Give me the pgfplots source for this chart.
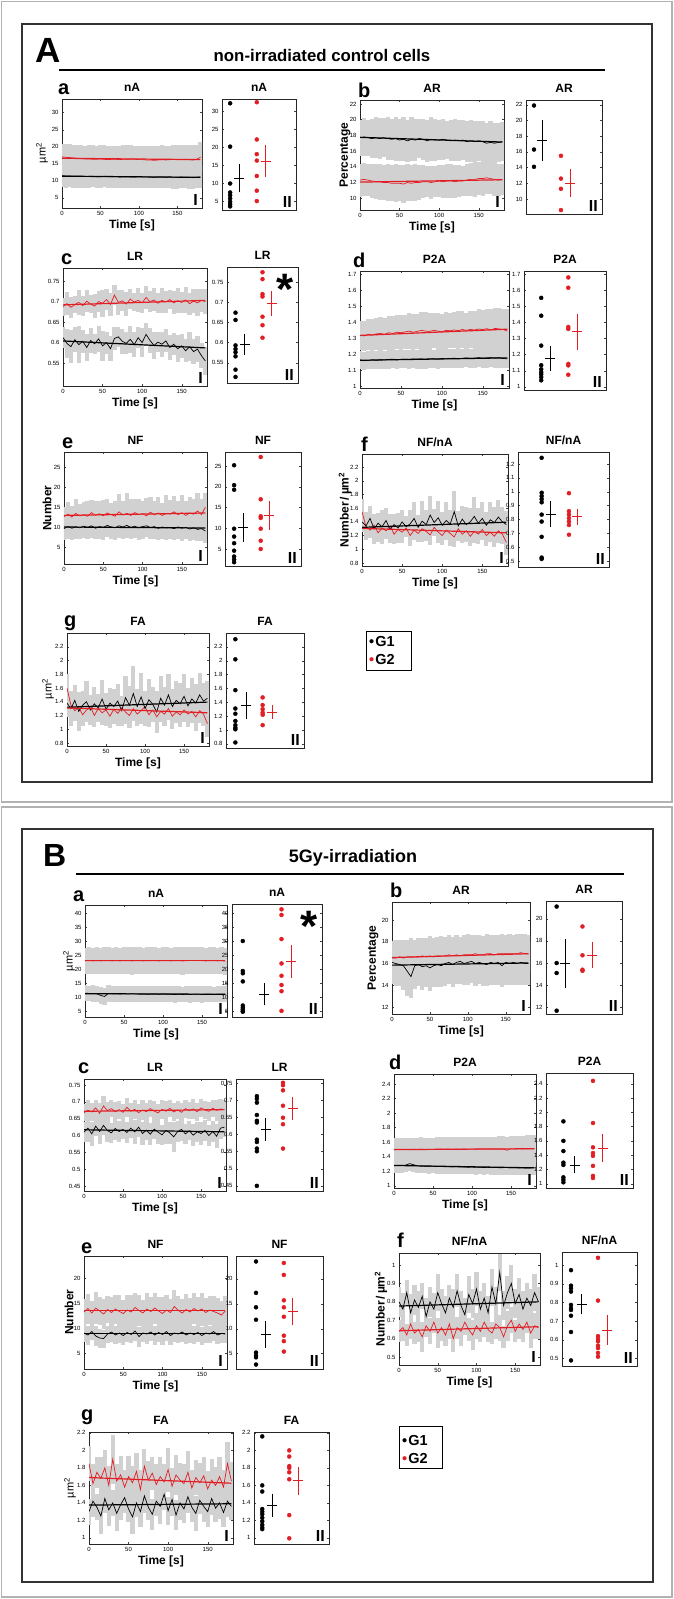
\documentclass[border=0pt]{standalone}
\usepackage{fontspec}
\setmainfont{Liberation Sans}
\usepackage{pgfplots}
\pgfplotsset{compat=1.18}
\usepackage{pgfplotstable}
\definecolor{ptred}{RGB}{226,30,36}

\pgfplotstableread{
t a ea b eb
0 11.5 3.4 17.0 3.8
5 11.4 3.4 16.9 3.9
10 11.4 3.3 16.8 3.9
15 11.3 3.3 16.7 3.8
20 11.3 3.4 16.6 3.9
25 11.3 3.4 16.5 4.0
30 11.2 3.3 16.4 3.9
35 11.3 3.3 16.4 4.0
40 11.3 3.2 16.3 4.1
45 11.2 3.3 16.3 4.0
50 11.2 3.3 16.4 4.0
55 11.3 3.2 16.3 4.1
60 11.2 3.2 16.2 4.1
65 11.2 3.3 16.3 4.0
70 11.2 3.3 16.3 4.0
75 11.1 3.2 16.2 4.1
80 11.2 3.2 16.3 4.2
85 11.2 3.3 16.3 4.1
90 11.1 3.3 16.4 4.1
95 11.1 3.2 16.3 4.0
100 11.2 3.2 16.2 4.0
105 11.1 3.3 16.2 4.1
110 11.1 3.3 16.1 4.2
115 11.1 3.2 16.1 4.2
120 11.0 3.2 16.0 4.1
125 11.1 3.3 16.1 4.1
130 11.1 3.3 16.2 4.2
135 11.0 3.2 16.1 4.2
140 11.1 3.2 16.2 4.1
145 11.0 3.3 16.3 4.2
150 11.0 3.3 16.2 4.3
155 11.1 3.2 16.2 4.2
160 11.0 3.2 16.3 4.2
165 11.0 3.3 16.2 4.3
170 10.9 3.3 16.1 4.3
175 11.0 3.2 16.3 4.3
180 11.1 3.3 16.9 4.4
}\tAa

\pgfplotstableread{
t a ea b eb
0 17.7 2.3 12.3 2.1
5 17.8 2.4 12.4 2.1
10 17.7 2.3 12.3 2.0
15 17.6 2.5 12.2 2.2
20 17.7 2.6 12.1 2.2
25 17.6 2.6 12.1 2.3
30 17.7 2.5 12.0 2.2
35 17.6 2.7 12.0 2.3
40 17.5 2.6 11.9 2.3
45 17.6 2.8 11.9 2.4
50 17.4 2.7 11.9 2.3
55 17.5 2.8 11.8 2.4
60 17.3 2.7 12.0 2.4
65 17.5 2.8 11.9 2.3
70 17.4 2.7 12.0 2.4
75 17.6 2.5 12.0 2.2
80 17.5 2.6 12.1 2.1
85 17.3 2.7 12.1 2.0
90 17.5 2.8 12.0 2.1
95 17.4 2.7 12.1 2.0
100 17.4 2.5 12.2 2.0
105 17.5 2.6 12.1 2.1
110 17.4 2.4 12.2 2.2
115 17.3 2.6 12.2 2.2
120 17.4 2.7 12.1 2.1
125 17.3 2.6 12.2 2.0
130 17.4 2.5 12.2 1.9
135 17.2 2.6 12.3 2.0
140 17.3 2.7 12.4 2.1
145 17.2 2.6 12.4 2.2
150 17.3 2.5 12.5 2.1
155 17.2 2.6 12.5 2.2
160 17.0 2.6 12.6 2.1
165 17.1 2.7 12.5 2.0
170 17.0 2.6 12.4 2.1
175 17.1 2.5 12.3 2.0
180 17.2 2.5 12.4 2.0
}\tAb

\pgfplotstableread{
t a ea b eb
0 0.612 0.025 0.688 0.022
5 0.598 0.035 0.695 0.028
10 0.590 0.040 0.686 0.025
15 0.607 0.030 0.693 0.020
20 0.595 0.045 0.698 0.030
25 0.603 0.028 0.690 0.024
30 0.588 0.033 0.701 0.027
35 0.605 0.030 0.694 0.022
40 0.597 0.025 0.689 0.030
45 0.609 0.032 0.700 0.025
50 0.592 0.036 0.696 0.033
55 0.600 0.027 0.705 0.026
60 0.585 0.030 0.693 0.028
65 0.610 0.028 0.716 0.024
70 0.614 0.025 0.698 0.030
75 0.603 0.030 0.702 0.026
80 0.598 0.027 0.694 0.030
85 0.608 0.033 0.706 0.025
90 0.595 0.030 0.699 0.022
95 0.612 0.026 0.703 0.029
100 0.600 0.035 0.697 0.024
105 0.620 0.028 0.710 0.027
110 0.605 0.030 0.700 0.025
115 0.593 0.032 0.704 0.028
120 0.601 0.025 0.696 0.024
125 0.596 0.030 0.703 0.030
130 0.604 0.028 0.699 0.026
135 0.588 0.031 0.705 0.024
140 0.596 0.027 0.697 0.028
145 0.585 0.033 0.702 0.030
150 0.592 0.030 0.698 0.026
155 0.580 0.028 0.704 0.031
160 0.590 0.035 0.695 0.027
165 0.578 0.030 0.701 0.029
170 0.584 0.032 0.697 0.033
175 0.568 0.030 0.703 0.028
180 0.555 0.035 0.700 0.030
}\tAc

\pgfplotstableread{
t a ea b eb
0 1.165 0.055 1.320 0.090
5 1.160 0.055 1.315 0.095
10 1.162 0.056 1.325 0.095
15 1.165 0.057 1.320 0.100
20 1.163 0.056 1.328 0.100
25 1.167 0.058 1.330 0.105
30 1.165 0.057 1.325 0.100
35 1.168 0.058 1.335 0.105
40 1.170 0.057 1.330 0.110
45 1.166 0.058 1.338 0.105
50 1.169 0.057 1.335 0.110
55 1.170 0.058 1.340 0.105
60 1.168 0.059 1.345 0.110
65 1.172 0.058 1.338 0.115
70 1.170 0.059 1.343 0.110
75 1.171 0.060 1.350 0.115
80 1.169 0.058 1.345 0.120
85 1.173 0.059 1.343 0.115
90 1.172 0.058 1.350 0.110
95 1.170 0.059 1.345 0.115
100 1.175 0.060 1.340 0.110
105 1.172 0.059 1.350 0.115
110 1.174 0.060 1.347 0.110
115 1.176 0.059 1.352 0.115
120 1.173 0.060 1.348 0.120
125 1.175 0.059 1.355 0.115
130 1.178 0.060 1.350 0.110
135 1.175 0.061 1.355 0.115
140 1.177 0.060 1.352 0.120
145 1.179 0.061 1.358 0.125
150 1.176 0.060 1.355 0.120
155 1.178 0.061 1.360 0.125
160 1.180 0.062 1.352 0.130
165 1.177 0.061 1.362 0.125
170 1.179 0.062 1.358 0.130
175 1.174 0.061 1.355 0.130
180 1.172 0.060 1.345 0.135
}\tAd

\pgfplotstableread{
t a ea b eb
0 9.6 2.8 12.6 2.3
5 10.1 3.0 13.2 3.0
10 9.7 2.9 12.5 2.7
15 10.0 3.1 13.4 3.5
20 9.8 2.8 12.8 2.9
25 10.2 3.0 13.0 3.3
30 9.9 2.9 12.7 3.8
35 10.3 3.1 13.6 3.1
40 9.7 2.8 12.9 3.6
45 10.1 3.0 13.3 3.2
50 9.9 3.2 12.8 4.0
55 10.4 2.9 13.5 3.4
60 10.0 3.0 13.1 3.0
65 9.8 3.1 12.7 3.9
70 10.3 3.0 13.8 4.5
75 10.0 2.9 13.0 3.6
80 10.4 3.1 13.4 5.0
85 9.9 3.0 12.9 4.2
90 10.2 2.9 13.6 3.5
95 9.8 3.0 13.1 4.0
100 10.1 3.1 13.3 3.3
105 10.3 2.9 12.8 4.4
110 9.9 3.0 13.7 3.8
115 10.1 3.1 13.0 3.4
120 9.7 3.0 13.5 4.1
125 10.0 2.9 12.9 3.2
130 9.8 3.1 13.4 4.6
135 9.9 3.0 13.2 3.5
140 9.6 2.9 13.8 3.9
145 10.0 3.0 13.1 3.3
150 9.7 3.1 13.6 4.3
155 9.9 3.0 12.9 3.6
160 9.5 2.9 13.5 4.0
165 9.8 3.0 13.2 3.7
170 9.4 2.9 14.0 4.5
175 9.6 3.0 13.1 3.8
180 9.0 3.1 15.0 3.5
}\tAe

\pgfplotstableread{
t a ea b eb
0 1.40 0.15 1.55 0.18
5 1.34 0.20 1.33 0.14
10 1.45 0.18 1.28 0.12
15 1.30 0.22 1.35 0.16
20 1.38 0.15 1.24 0.13
25 1.33 0.25 1.31 0.15
30 1.42 0.18 1.27 0.12
35 1.29 0.20 1.34 0.17
40 1.36 0.16 1.22 0.14
45 1.31 0.22 1.29 0.13
50 1.40 0.18 1.25 0.16
55 1.33 0.15 1.31 0.12
60 1.37 0.20 1.20 0.15
65 1.45 0.24 1.28 0.14
70 1.32 0.18 1.23 0.13
75 1.41 0.30 1.30 0.16
80 1.36 0.22 1.26 0.14
85 1.50 0.28 1.21 0.15
90 1.39 0.20 1.32 0.13
95 1.46 0.24 1.25 0.16
100 1.35 0.19 1.20 0.14
105 1.42 0.27 1.28 0.15
110 1.37 0.20 1.23 0.18
115 1.55 0.30 1.18 0.14
120 1.34 0.22 1.30 0.16
125 1.44 0.19 1.22 0.13
130 1.36 0.25 1.27 0.15
135 1.40 0.20 1.19 0.14
140 1.48 0.28 1.26 0.17
145 1.38 0.22 1.22 0.14
150 1.45 0.24 1.29 0.16
155 1.35 0.20 1.20 0.15
160 1.43 0.26 1.25 0.14
165 1.39 0.22 1.19 0.16
170 1.47 0.25 1.27 0.18
175 1.40 0.22 1.22 0.15
180 1.36 0.20 1.10 0.18
}\tAf

\pgfplotstableread{
t a ea b eb
0 1.38 0.20 1.60 0.20
5 1.30 0.25 1.35 0.18
10 1.42 0.22 1.27 0.15
15 1.26 0.28 1.32 0.20
20 1.35 0.20 1.21 0.16
25 1.40 0.30 1.28 0.18
30 1.28 0.22 1.33 0.15
35 1.37 0.25 1.20 0.17
40 1.31 0.20 1.30 0.16
45 1.44 0.28 1.24 0.18
50 1.29 0.24 1.28 0.15
55 1.38 0.22 1.19 0.17
60 1.33 0.26 1.29 0.16
65 1.41 0.25 1.23 0.18
70 1.27 0.22 1.31 0.15
75 1.46 0.32 1.25 0.17
80 1.35 0.28 1.20 0.18
85 1.52 0.40 1.30 0.16
90 1.33 0.25 1.22 0.17
95 1.47 0.35 1.27 0.19
100 1.30 0.26 1.33 0.16
105 1.43 0.30 1.21 0.18
110 1.36 0.25 1.28 0.17
115 1.25 0.30 1.18 0.20
120 1.45 0.33 1.26 0.16
125 1.35 0.26 1.22 0.18
130 1.50 0.30 1.30 0.17
135 1.33 0.25 1.19 0.19
140 1.42 0.28 1.25 0.16
145 1.37 0.30 1.21 0.18
150 1.48 0.33 1.28 0.17
155 1.34 0.26 1.22 0.19
160 1.44 0.30 1.26 0.17
165 1.38 0.28 1.18 0.20
170 1.50 0.32 1.27 0.18
175 1.41 0.26 1.22 0.17
180 1.45 0.25 1.08 0.20
}\tAg

\pgfplotstableread{
t a ea b eb
0 11.4 2.8 22.9 4.8
5 11.3 2.8 23.0 4.8
10 11.3 2.9 22.9 4.7
15 11.2 2.9 23.0 4.8
20 10.6 3.0 22.9 4.8
25 10.2 3.0 23.0 4.9
30 11.3 2.9 23.0 4.8
35 11.2 2.9 22.9 4.8
40 11.2 2.8 23.0 4.9
45 11.1 2.8 22.9 4.8
50 11.2 2.9 23.0 4.8
55 11.1 2.9 23.0 4.8
60 11.2 2.8 22.9 4.9
65 11.1 2.8 23.0 4.8
70 11.1 2.9 23.0 4.8
75 11.1 2.9 22.9 4.8
80 11.0 2.8 23.0 4.9
85 11.1 2.8 23.0 4.8
90 11.1 2.9 23.0 4.8
95 11.0 2.9 22.9 4.8
100 11.1 2.8 23.0 4.8
105 11.0 2.8 23.0 4.9
110 11.0 2.9 22.9 4.8
115 10.9 2.9 23.0 4.8
120 11.0 2.8 23.0 4.8
125 10.9 2.8 22.9 4.9
130 11.0 2.9 23.0 4.8
135 10.9 2.9 23.1 4.8
140 11.0 2.8 23.0 4.8
145 11.0 2.8 23.1 4.9
150 10.9 2.9 23.0 4.8
155 11.0 2.9 22.9 4.8
160 11.0 2.8 23.0 4.8
165 10.9 2.8 23.0 4.9
170 11.0 2.9 22.9 4.8
175 11.0 2.9 23.0 4.8
180 11.0 2.8 22.8 4.8
}\tBa

\pgfplotstableread{
t a ea b eb
0 16.1 2.0 16.5 1.6
5 16.0 2.1 16.5 1.7
10 15.9 2.0 16.6 1.6
15 15.8 2.2 16.5 1.7
20 15.3 2.3 16.6 1.6
25 14.8 2.0 16.6 1.7
30 15.8 2.1 16.6 1.6
35 15.9 2.0 16.6 1.7
40 15.7 2.1 16.7 1.6
45 15.8 2.0 16.6 1.7
50 15.6 2.1 16.7 1.8
55 15.8 2.0 16.6 1.7
60 15.9 2.1 16.7 1.7
65 15.8 2.0 16.7 1.8
70 16.0 2.1 16.7 1.7
75 16.1 2.0 16.8 1.8
80 15.9 2.1 16.7 1.7
85 16.1 2.0 16.8 1.8
90 16.2 2.1 16.7 1.7
95 16.0 2.0 16.8 1.8
100 16.1 2.1 16.8 1.9
105 16.2 2.0 16.8 1.8
110 16.0 2.1 16.9 1.7
115 16.1 2.0 16.8 1.8
120 16.0 2.1 16.8 1.7
125 15.9 2.0 16.9 1.8
130 16.1 2.1 16.9 1.7
135 16.0 2.0 16.8 1.8
140 16.1 2.1 16.9 1.7
145 15.8 2.0 16.9 1.8
150 16.1 2.1 16.9 1.7
155 16.0 2.0 16.9 1.8
160 16.1 2.1 16.9 1.7
165 16.0 2.0 16.9 1.8
170 16.1 2.1 17.0 1.7
175 16.0 2.0 16.9 1.8
180 16.0 2.0 16.9 1.7
}\tBb

\pgfplotstableread{
t a ea b eb
0 0.610 0.030 0.668 0.025
5 0.622 0.040 0.675 0.030
10 0.605 0.035 0.670 0.028
15 0.628 0.030 0.682 0.025
20 0.612 0.038 0.666 0.032
25 0.630 0.028 0.688 0.030
30 0.615 0.035 0.674 0.027
35 0.608 0.030 0.680 0.025
40 0.621 0.033 0.671 0.030
45 0.612 0.030 0.677 0.027
50 0.618 0.028 0.669 0.025
55 0.609 0.032 0.684 0.029
60 0.622 0.030 0.672 0.026
65 0.611 0.035 0.678 0.028
70 0.625 0.030 0.668 0.025
75 0.606 0.033 0.676 0.030
80 0.616 0.028 0.671 0.027
85 0.604 0.032 0.680 0.025
90 0.619 0.030 0.673 0.029
95 0.610 0.036 0.667 0.026
100 0.602 0.030 0.678 0.028
105 0.615 0.040 0.672 0.030
110 0.608 0.032 0.681 0.025
115 0.596 0.045 0.670 0.028
120 0.612 0.030 0.676 0.026
125 0.618 0.033 0.669 0.029
130 0.605 0.030 0.680 0.027
135 0.614 0.028 0.674 0.025
140 0.601 0.032 0.679 0.030
145 0.611 0.030 0.671 0.027
150 0.606 0.034 0.682 0.028
155 0.615 0.030 0.676 0.026
160 0.600 0.032 0.672 0.029
165 0.612 0.030 0.681 0.025
170 0.598 0.035 0.675 0.032
175 0.622 0.033 0.679 0.030
180 0.625 0.030 0.677 0.028
}\tBc

\pgfplotstableread{
t a ea b eb
0 1.280 0.100 1.495 0.160
5 1.278 0.100 1.500 0.160
10 1.282 0.102 1.498 0.162
15 1.285 0.100 1.500 0.160
20 1.305 0.100 1.497 0.165
25 1.290 0.100 1.502 0.162
30 1.275 0.098 1.500 0.160
35 1.272 0.100 1.503 0.163
40 1.270 0.098 1.498 0.165
45 1.268 0.100 1.502 0.160
50 1.270 0.099 1.500 0.162
55 1.265 0.100 1.503 0.165
60 1.266 0.098 1.505 0.160
65 1.262 0.100 1.501 0.165
70 1.263 0.099 1.504 0.163
75 1.260 0.100 1.500 0.167
80 1.262 0.098 1.505 0.165
85 1.258 0.100 1.503 0.168
90 1.259 0.099 1.506 0.165
95 1.256 0.100 1.502 0.170
100 1.258 0.098 1.507 0.168
105 1.254 0.100 1.503 0.170
110 1.256 0.099 1.506 0.168
115 1.252 0.100 1.504 0.172
120 1.254 0.098 1.508 0.170
125 1.250 0.100 1.505 0.172
130 1.252 0.099 1.507 0.170
135 1.249 0.100 1.504 0.175
140 1.250 0.098 1.508 0.172
145 1.252 0.100 1.490 0.178
150 1.247 0.099 1.509 0.175
155 1.249 0.100 1.506 0.178
160 1.245 0.098 1.510 0.180
165 1.248 0.100 1.507 0.178
170 1.244 0.099 1.511 0.182
175 1.246 0.100 1.508 0.185
180 1.250 0.100 1.512 0.185
}\tBd

\pgfplotstableread{
t a ea b eb
0 9.0 1.8 13.2 2.6
5 8.6 1.9 13.9 3.0
10 9.3 1.7 13.0 2.5
15 8.4 2.0 14.0 3.2
20 8.0 1.9 13.4 2.8
25 7.9 1.8 12.8 3.0
30 8.8 1.7 13.7 2.7
35 9.2 1.9 13.1 3.1
40 8.6 1.8 13.8 2.9
45 9.0 2.0 13.3 3.3
50 8.5 1.8 12.9 2.8
55 9.1 1.9 13.6 3.0
60 8.7 1.7 13.2 3.4
65 9.4 1.9 14.1 2.9
70 8.3 2.0 13.5 3.1
75 9.0 1.8 13.0 2.7
80 8.8 1.9 13.8 3.2
85 9.2 1.7 13.3 2.9
90 8.6 1.9 14.0 3.1
95 9.1 1.8 13.4 2.8
100 8.7 2.0 12.9 3.3
105 9.3 1.8 13.6 3.0
110 8.5 1.9 13.1 2.7
115 9.0 1.8 14.3 3.4
120 8.8 1.7 13.5 3.0
125 9.2 1.9 13.0 2.8
130 8.6 1.8 13.7 3.2
135 9.0 2.0 13.2 2.9
140 8.7 1.8 13.9 3.1
145 9.1 1.9 13.4 2.8
150 8.5 1.8 13.8 3.3
155 9.0 1.9 13.1 3.0
160 8.8 1.7 13.6 2.9
165 9.3 1.9 13.3 3.2
170 8.6 1.8 13.0 3.0
175 8.9 1.9 12.6 2.8
180 8.8 1.8 13.4 3.0
}\tBe

\pgfplotstableread{
t a ea b eb
0 0.800 0.08 0.640 0.06
5 0.760 0.09 0.660 0.07
10 0.850 0.07 0.620 0.06
15 0.740 0.10 0.680 0.08
20 0.810 0.08 0.630 0.06
25 0.770 0.09 0.650 0.07
30 0.830 0.07 0.610 0.08
35 0.720 0.10 0.670 0.06
40 0.800 0.08 0.640 0.07
45 0.760 0.09 0.690 0.06
50 0.850 0.10 0.630 0.08
55 0.790 0.08 0.660 0.07
60 0.740 0.09 0.620 0.06
65 0.820 0.07 0.680 0.08
70 0.770 0.10 0.600 0.07
75 0.860 0.09 0.660 0.06
80 0.780 0.08 0.640 0.08
85 0.730 0.09 0.690 0.07
90 0.840 0.10 0.650 0.06
95 0.790 0.08 0.620 0.08
100 0.870 0.09 0.670 0.07
105 0.760 0.10 0.640 0.06
110 0.820 0.08 0.690 0.08
115 0.740 0.09 0.650 0.07
120 0.880 0.10 0.630 0.06
125 0.790 0.09 0.680 0.08
130 0.960 0.10 0.660 0.07
135 0.780 0.08 0.610 0.06
140 0.850 0.09 0.670 0.08
145 0.900 0.10 0.700 0.07
150 0.790 0.08 0.640 0.06
155 0.840 0.09 0.680 0.08
160 0.760 0.10 0.650 0.07
165 0.820 0.08 0.690 0.06
170 0.780 0.09 0.630 0.08
175 0.850 0.10 0.670 0.07
180 0.800 0.08 0.660 0.06
}\tBf

\pgfplotstableread{
t a ea b eb
0 1.30 0.15 1.85 0.20
5 1.42 0.18 1.62 0.22
10 1.35 0.15 1.75 0.18
15 1.25 0.20 1.68 0.25
20 1.45 0.16 1.80 0.20
25 1.32 0.18 1.60 0.22
30 1.40 0.15 1.90 0.28
35 1.28 0.20 1.65 0.20
40 1.38 0.17 1.72 0.22
45 1.46 0.18 1.58 0.20
50 1.33 0.15 1.70 0.24
55 1.24 0.20 1.63 0.19
60 1.40 0.16 1.76 0.21
65 1.30 0.18 1.55 0.23
70 1.48 0.20 1.82 0.20
75 1.35 0.15 1.66 0.22
80 1.27 0.18 1.74 0.19
85 1.42 0.17 1.61 0.24
90 1.36 0.20 1.70 0.22
95 1.50 0.18 1.64 0.20
100 1.31 0.16 1.78 0.25
105 1.44 0.19 1.59 0.21
110 1.26 0.17 1.72 0.23
115 1.40 0.20 1.66 0.20
120 1.33 0.16 1.62 0.22
125 1.47 0.18 1.75 0.24
130 1.35 0.17 1.57 0.21
135 1.28 0.20 1.69 0.20
140 1.43 0.16 1.63 0.23
145 1.36 0.18 1.71 0.22
150 1.30 0.17 1.56 0.20
155 1.45 0.19 1.66 0.24
160 1.34 0.16 1.60 0.21
165 1.40 0.18 1.70 0.22
170 1.29 0.17 1.58 0.20
175 1.42 0.18 1.85 0.25
180 1.36 0.16 1.65 0.22
}\tBg

\pgfplotsset{
  myax/.style={scale only axis, anchor=north west,
    axis line style={black!85, line width=0.6pt},
    every tick/.style={black!75, line width=0.3pt},
    major tick length=1.6pt, tick align=inside,
    tick label style={font=\fontsize{6}{7}\selectfont},
    /pgf/number format/assume math mode=true,
    title style={font=\fontsize{12}{13}\bfseries\selectfont, yshift=-2.5pt}},
  tsI/.style={myax, xmin=0, xmax=182, xtick={0,50,100,150},
    xlabel={Time [s]}, xlabel style={font=\fontsize{12}{13}\bfseries\selectfont, yshift=3pt}},
  dII/.style={myax, xmin=0, xmax=1, xtick=\empty},
  bandb/.style={draw=none, mark=none, forget plot,
    error bars/y dir=both, error bars/y explicit, error bars/error mark=none,
    error bars/error bar style={draw=black!18, line width=4.2pt}},
  meanl/.style={line width=0.7pt, mark=none},
  fitl/.style={line width=1.2pt, mark=none},
  mbar/.style={only marks, mark=-, mark size=5pt, mark options={line width=0.8pt},
    error bars/y dir=both, error bars/y explicit,
    error bars/error bar style={line width=0.8pt},
    error bars/error mark options={line width=0.8pt, mark size=3.2pt}},
  dotm/.style={only marks, mark=*, mark size=2pt},
}
\tikzset{rn/.style={anchor=south east, font=\fontsize{16}{16}\bfseries\selectfont, inner sep=1pt, xshift=-3pt, yshift=1.5pt},
  yl/.style={rotate=90, font=\fontsize{12}{13}\bfseries\selectfont, anchor=center},
  plet/.style={anchor=base west, font=\fontsize{20}{20}\bfseries\selectfont, inner sep=0pt}}

\newcommand{\tsplots}[5]{%
\addplot[bandb] table[x=t,y=a,y error=ea]{#1};
\addplot[bandb] table[x=t,y=b,y error=eb]{#1};
\addplot[meanl,ptred] table[x=t,y=b]{#1};
\addplot[meanl,black] table[x=t,y=a]{#1};
\addplot[fitl,black] coordinates {(0,#2)(180,#3)};
\addplot[fitl,ptred] coordinates {(0,#4)(180,#5)};
}
\newcommand{\dotII}[8]{%
\addplot[dotm,black] table[header=false,x expr=\xa,y index=0,row sep=\\]{#1};
\addplot[mbar,black] coordinates {(\xb,#2) += (0,#4) -= (0,#3)};
\addplot[dotm,ptred] table[header=false,x expr=\xc,y index=0,row sep=\\]{#5};
\addplot[mbar,ptred] coordinates {(\xd,#6) += (0,#8) -= (0,#7)};
}
\newcommand{\xs}[4]{\def\xa{#1}\def\xb{#2}\def\xc{#3}\def\xd{#4}}

\begin{document}
\begin{tikzpicture}
\path[use as bounding box] (0,0) rectangle (674pt,-1599pt);
\fill[white] (0,0) rectangle (674pt,-1599pt);
\draw[black!30, line width=1.6pt] (1.5pt,-1.5pt) rectangle (672pt,-802pt);
\draw[black!30, line width=1.6pt] (1.5pt,-807pt) rectangle (672pt,-1597pt);
\draw[black!80, line width=2.2pt] (22pt,-24pt) rectangle (652pt,-782pt);
\draw[black!80, line width=2.2pt] (22pt,-829pt) rectangle (653pt,-1582pt);
\node[anchor=base west, font=\fontsize{35}{35}\bfseries\selectfont, inner sep=0pt] at (35pt,-62pt) {A};
\node[font=\fontsize{16.8}{17}\bfseries\selectfont] at (322pt,-55pt) {non-irradiated control cells};
\draw[black, line width=2pt] (59pt,-70pt) -- (605pt,-70pt);
\node[anchor=base west, font=\fontsize{32}{32}\bfseries\selectfont, inner sep=0pt] at (43pt,-866pt) {B};
\node[font=\fontsize{18}{18}\bfseries\selectfont] at (353pt,-858pt) {5Gy-irradiation};
\draw[black, line width=2pt] (76pt,-874pt) -- (624pt,-874pt);
\node[plet] at (58pt,-94pt) {a};
\node[plet] at (358pt,-97pt) {b};
\node[plet] at (61pt,-264pt) {c};
\node[plet] at (353pt,-267pt) {d};
\node[plet] at (62pt,-448pt) {e};
\node[plet] at (361pt,-451pt) {f};
\node[plet] at (64pt,-626pt) {g};
\node[plet] at (73pt,-901pt) {a};
\node[plet] at (390pt,-897pt) {b};
\node[plet] at (78pt,-1073pt) {c};
\node[plet] at (389pt,-1069pt) {d};
\node[plet] at (81pt,-1253pt) {e};
\node[plet] at (397pt,-1247pt) {f};
\node[plet] at (81pt,-1420pt) {g};
\node[yl, font=\fontsize{11}{12}\selectfont] at (42pt,-153pt) {µm\textsuperscript{2}};
\node[yl] at (345pt,-155pt) {Percentage};
\node[yl] at (47pt,-508pt) {Number};
\node[yl] at (345pt,-510pt) {Number\,/\,µm\textsuperscript{2}};
\node[yl, font=\fontsize{11}{12}\selectfont] at (48pt,-689pt) {µm\textsuperscript{2}};
\node[yl, font=\fontsize{11}{12}\selectfont] at (69pt,-961pt) {µm\textsuperscript{2}};
\node[yl] at (373pt,-958pt) {Percentage};
\node[yl] at (69pt,-1312pt) {Number};
\node[yl] at (381pt,-1309pt) {Number\,/\,µm\textsuperscript{2}};
\node[yl, font=\fontsize{11}{12}\selectfont] at (70pt,-1488pt) {µm\textsuperscript{2}};

\begin{axis}[tsI,at={(62pt,-99pt)},width=140pt,height=109pt,ymin=2,ymax=34,ytick={5,10,15,20,25,30},title={nA}]
\tsplots{\tAa}{11.35}{11.0}{16.6}{16.2}
\node[rn] at (rel axis cs:1,0) {I};
\end{axis}
\begin{axis}[dII,at={(222pt,-99pt)},width=74pt,height=111pt,ymin=2.5,ymax=33.5,ytick={5,10,15,20,25,30},title={nA}]
\xs{0.11}{0.23}{0.47}{0.59}
\dotII{32.3\\20.2\\9.9\\7.4\\6.6\\5.7\\4.8\\4.1\\3.5\\}{11.3}{3.0}{3.2}{32.6\\22.2\\18.1\\16.3\\12.0\\7.9\\5.0\\}{16.2}{3.5}{3.6}
\node[rn] at (rel axis cs:1,0) {II};
\end{axis}
\begin{axis}[tsI,at={(360pt,-100pt)},width=144pt,height=110pt,ymin=8.5,ymax=22.5,ytick={10,12,14,16,18,20,22},title={AR}]
\tsplots{\tAb}{17.75}{17.15}{12.05}{12.35}
\node[rn] at (rel axis cs:1,0) {I};
\end{axis}
\begin{axis}[dII,at={(526pt,-100pt)},width=76pt,height=114pt,ymin=8.1,ymax=22.6,ytick={10,12,14,16,18,20,22},title={AR}]
\xs{0.105}{0.21}{0.46}{0.58}
\dotII{21.9\\16.3\\14.1\\}{17.5}{2.3}{2.2}{15.5\\12.6\\11.3\\8.6\\}{12.0}{1.3}{1.4}
\node[rn] at (rel axis cs:1,0) {II};
\end{axis}
\begin{axis}[tsI,at={(63pt,-268pt)},width=144pt,height=118pt,ymin=0.494,ymax=0.782,ytick={0.55,0.6,0.65,0.7,0.75},title={LR}]
\tsplots{\tAc}{0.604}{0.587}{0.692}{0.703}
\node[rn] at (rel axis cs:1,0) {I};
\end{axis}
\begin{axis}[dII,at={(227pt,-267pt)},width=71pt,height=116pt,ymin=0.50,ymax=0.787,ytick={0.55,0.6,0.65,0.7,0.75},title={LR}]
\xs{0.12}{0.25}{0.50}{0.63}
\dotII{0.674\\0.656\\0.593\\0.584\\0.576\\0.566\\0.533\\0.515\\}{0.595}{0.017}{0.018}{0.774\\0.757\\0.720\\0.714\\0.664\\0.643\\0.612\\}{0.697}{0.023}{0.023}
\node[rn] at (rel axis cs:1,0) {II};
\end{axis}
\begin{axis}[tsI,at={(360pt,-271pt)},width=149pt,height=117pt,ymin=0.99,ymax=1.72,ytick={1,1.1,1.2,1.3,1.4,1.5,1.6,1.7},title={P2A}]
\tsplots{\tAd}{1.163}{1.178}{1.318}{1.357}
\node[rn] at (rel axis cs:1,0) {I};
\end{axis}
\begin{axis}[dII,at={(524pt,-271pt)},width=82pt,height=119pt,ymin=0.98,ymax=1.72,ytick={1,1.1,1.2,1.3,1.4,1.5,1.6,1.7},title={P2A}]
\xs{0.21}{0.32}{0.54}{0.65}
\dotII{1.553\\1.442\\1.256\\1.134\\1.109\\1.09\\1.077\\1.06\\1.04\\}{1.175}{0.055}{0.06}{1.68\\1.616\\1.372\\1.36\\1.142\\1.133\\1.075\\}{1.343}{0.093}{0.09}
\node[rn] at (rel axis cs:1,0) {II};
\end{axis}
\begin{axis}[tsI,at={(64pt,-452pt)},width=143pt,height=112pt,ymin=0.75,ymax=28.75,ytick={5,10,15,20,25},title={NF}]
\tsplots{\tAe}{10.0}{9.75}{12.9}{13.5}
\node[rn] at (rel axis cs:1,0) {I};
\end{axis}
\begin{axis}[dII,at={(225pt,-452pt)},width=76pt,height=114pt,ymin=0.9,ymax=28.4,ytick={5,10,15,20,25},title={NF}]
\xs{0.12}{0.24}{0.47}{0.58}
\dotII{25.2\\20.4\\19.3\\9.9\\8.0\\6.4\\4.6\\3.2\\2.5\\1.8\\}{10.1}{2.6}{2.7}{27.2\\17.0\\12.9\\12.5\\9.9\\7.0\\5.0\\}{13.0}{2.6}{2.8}
\node[rn] at (rel axis cs:1,0) {II};
\end{axis}
\begin{axis}[tsI,at={(362pt,-454pt)},width=146pt,height=112pt,ymin=0.756,ymax=2.39,ytick={0.8,1,1.2,1.4,1.6,1.8,2,2.2},title={NF/nA}]
\tsplots{\tAf}{1.32}{1.395}{1.305}{1.24}
\node[rn] at (rel axis cs:1,0) {I};
\end{axis}
\begin{axis}[dII,at={(518pt,-452pt)},width=91pt,height=115pt,ymin=0.457,ymax=1.287,ytick={0.5,0.6,0.7,0.8,0.9,1,1.1,1.2},title={NF/nA}]
\xs{0.26}{0.36}{0.56}{0.65}
\dotII{1.245\\0.993\\0.969\\0.947\\0.924\\0.835\\0.785\\0.675\\0.525\\0.515\\}{0.84}{0.07}{0.07}{0.99\\0.86\\0.835\\0.81\\0.785\\0.76\\0.69\\}{0.82}{0.035}{0.035}
\node[rn] at (rel axis cs:1,0) {II};
\end{axis}
\begin{axis}[tsI,at={(67pt,-633pt)},width=142pt,height=113pt,ymin=0.756,ymax=2.40,ytick={0.8,1,1.2,1.4,1.6,1.8,2,2.2},title={FA}]
\tsplots{\tAg}{1.32}{1.395}{1.31}{1.24}
\node[rn] at (rel axis cs:1,0) {I};
\end{axis}
\begin{axis}[dII,at={(226pt,-633pt)},width=78pt,height=115pt,ymin=0.74,ymax=2.40,ytick={0.8,1,1.2,1.4,1.6,1.8,2,2.2},title={FA}]
\xs{0.12}{0.26}{0.47}{0.59}
\dotII{2.31\\2.02\\1.575\\1.31\\1.235\\1.13\\1.07\\1.03\\1.01\\0.82\\}{1.35}{0.15}{0.15}{1.47\\1.36\\1.30\\1.25\\1.22\\1.07\\}{1.26}{0.05}{0.05}
\node[rn] at (rel axis cs:1,0) {II};
\end{axis}

\begin{axis}[tsI,at={(85pt,-905pt)},width=142pt,height=112pt,ymin=2.86,ymax=42.9,ytick={5,10,15,20,25,30,35,40},title={nA}]
\tsplots{\tBa}{11.2}{11.0}{23.0}{23.0}
\node[rn] at (rel axis cs:1,0) {I};
\end{axis}
\begin{axis}[dII,at={(232pt,-904pt)},width=90pt,height=113pt,ymin=2.9,ymax=43.2,ytick={5,10,15,20,25,30,35,40},title={nA}]
\xs{0.12}{0.36}{0.55}{0.66}
\dotII{30.0\\19.3\\18.5\\15.6\\7.0\\6.2\\5.6\\5.0\\4.8\\}{11.1}{2.8}{2.7}{41.3\\39.3\\30.7\\22.0\\17.6\\14.3\\12.1\\5.1\\}{22.8}{4.7}{4.6}
\node[rn] at (rel axis cs:1,0) {II};
\end{axis}
\begin{axis}[tsI,at={(392pt,-902pt)},width=138pt,height=112pt,ymin=11.36,ymax=21.65,ytick={12,14,16,18,20},title={AR}]
\tsplots{\tBb}{15.85}{16.05}{16.55}{16.9}
\node[rn] at (rel axis cs:1,0) {I};
\end{axis}
\begin{axis}[dII,at={(546pt,-901pt)},width=76pt,height=113pt,ymin=11.4,ymax=21.6,ytick={12,14,16,18,20},title={AR}]
\xs{0.14}{0.25}{0.48}{0.61}
\dotII{21.1\\16.0\\15.1\\11.7\\}{16.0}{2.0}{1.9}{19.3\\16.7\\15.4\\15.3\\}{16.7}{0.9}{0.9}
\node[rn] at (rel axis cs:1,0) {II};
\end{axis}
\begin{axis}[tsI,at={(84pt,-1079pt)},width=142pt,height=112pt,ymin=0.435,ymax=0.768,ytick={0.45,0.5,0.55,0.6,0.65,0.7,0.75},title={LR}]
\tsplots{\tBc}{0.617}{0.611}{0.672}{0.677}
\node[rn] at (rel axis cs:1,0) {I};
\end{axis}
\begin{axis}[dII,at={(236pt,-1079pt)},width=87pt,height=112pt,ymin=0.435,ymax=0.762,ytick={0.45,0.5,0.55,0.6,0.65,0.7,0.75},title={LR}]
\xs{0.24}{0.34}{0.54}{0.65}
\dotII{0.712\\0.704\\0.693\\0.657\\0.640\\0.635\\0.585\\0.578\\0.559\\0.551\\0.45\\}{0.614}{0.023}{0.024}{0.751\\0.744\\0.729\\0.684\\0.649\\0.630\\0.559\\}{0.675}{0.024}{0.024}
\node[rn] at (rel axis cs:1,0) {II};
\end{axis}
\begin{axis}[tsI,at={(394pt,-1074pt)},width=142pt,height=114pt,ymin=0.97,ymax=2.537,ytick={1,1.2,1.4,1.6,1.8,2,2.2,2.4},title={P2A}]
\tsplots{\tBd}{1.280}{1.247}{1.498}{1.510}
\node[rn] at (rel axis cs:1,0) {I};
\end{axis}
\begin{axis}[dII,at={(546pt,-1073pt)},width=87pt,height=115pt,ymin=0.94,ymax=2.55,ytick={1,1.2,1.4,1.6,1.8,2,2.2,2.4},title={P2A}]
\xs{0.20}{0.33}{0.54}{0.65}
\dotII{1.873\\1.60\\1.457\\1.295\\1.263\\1.09\\1.055\\1.02\\}{1.26}{0.07}{0.08}{2.44\\1.85\\1.51\\1.43\\1.39\\1.25\\1.11\\1.08\\}{1.50}{0.155}{0.155}
\node[rn] at (rel axis cs:1,0) {II};
\end{axis}
\begin{axis}[tsI,at={(84pt,-1256pt)},width=143pt,height=113pt,ymin=1.8,ymax=24.4,ytick={5,10,15,20},title={NF}]
\tsplots{\tBe}{8.9}{8.9}{13.5}{13.5}
\node[rn] at (rel axis cs:1,0) {I};
\end{axis}
\begin{axis}[dII,at={(236pt,-1256pt)},width=87pt,height=113pt,ymin=1.9,ymax=24.6,ytick={5,10,15,20},title={NF}]
\xs{0.23}{0.34}{0.55}{0.65}
\dotII{23.5\\17.2\\14.3\\11.8\\5.2\\4.6\\4.25\\2.8\\}{8.8}{2.1}{2.1}{23.2\\20.8\\15.7\\14.3\\12.4\\8.6\\7.5\\5.4\\}{13.5}{2.2}{2.1}
\node[rn] at (rel axis cs:1,0) {II};
\end{axis}
\begin{axis}[tsI,at={(399pt,-1253pt)},width=141pt,height=112pt,ymin=0.457,ymax=1.065,ytick={0.5,0.6,0.7,0.8,0.9,1},title={NF/nA}]
\tsplots{\tBf}{0.777}{0.800}{0.643}{0.665}
\node[rn] at (rel axis cs:1,0) {I};
\end{axis}
\begin{axis}[dII,at={(562pt,-1252pt)},width=75pt,height=114pt,ymin=0.46,ymax=1.07,ytick={0.5,0.6,0.7,0.8,0.9,1},title={NF/nA}]
\xs{0.12}{0.26}{0.48}{0.60}
\dotII{0.973\\0.89\\0.876\\0.858\\0.787\\0.77\\0.76\\0.729\\0.642\\0.49\\}{0.79}{0.037}{0.038}{1.039\\0.81\\0.62\\0.605\\0.592\\0.569\\0.556\\0.53\\0.51\\}{0.652}{0.063}{0.064}
\node[rn] at (rel axis cs:1,0) {II};
\end{axis}
\begin{axis}[tsI,at={(89pt,-1432pt)},width=144pt,height=112pt,ymin=0.93,ymax=2.21,ytick={1,1.2,1.4,1.6,1.8,2,2.2},title={FA}]
\tsplots{\tBg}{1.375}{1.39}{1.69}{1.625}
\node[rn] at (rel axis cs:1,0) {I};
\end{axis}
\begin{axis}[dII,at={(254pt,-1432pt)},width=75pt,height=112pt,ymin=0.93,ymax=2.21,ytick={1,1.2,1.4,1.6,1.8,2,2.2},title={FA}]
\xs{0.11}{0.24}{0.47}{0.59}
\dotII{2.16\\1.60\\1.53\\1.33\\1.30\\1.27\\1.23\\1.19\\1.15\\1.12\\1.10\\}{1.377}{0.097}{0.093}{2.0\\1.93\\1.82\\1.80\\1.75\\1.67\\1.26\\0.995\\}{1.656}{0.126}{0.119}
\node[rn] at (rel axis cs:1,0) {II};
\end{axis}

\node[anchor=base, font=\fontsize{44}{44}\bfseries\selectfont, inner sep=0pt] at (285pt,-304pt) {*};
\node[anchor=base, font=\fontsize{44}{44}\bfseries\selectfont, inner sep=0pt] at (309pt,-941pt) {*};
\draw[black, line width=0.9pt] (366pt,-631pt) rectangle (411pt,-670pt);
\node[anchor=base west, font=\fontsize{14.5}{15}\bfseries\selectfont, inner sep=0pt] at (369pt,-646pt) {{\color{black}•}\hspace{1pt}G1};
\node[anchor=base west, font=\fontsize{14.5}{15}\bfseries\selectfont, inner sep=0pt] at (369pt,-664pt) {{\color{ptred}•}\hspace{1pt}G2};
\draw[black, line width=0.9pt] (399pt,-1426pt) rectangle (442pt,-1468pt);
\node[anchor=base west, font=\fontsize{14.5}{15}\bfseries\selectfont, inner sep=0pt] at (402pt,-1445pt) {{\color{black}•}\hspace{1pt}G1};
\node[anchor=base west, font=\fontsize{14.5}{15}\bfseries\selectfont, inner sep=0pt] at (402pt,-1463pt) {{\color{ptred}•}\hspace{1pt}G2};
\end{tikzpicture}
\end{document}
